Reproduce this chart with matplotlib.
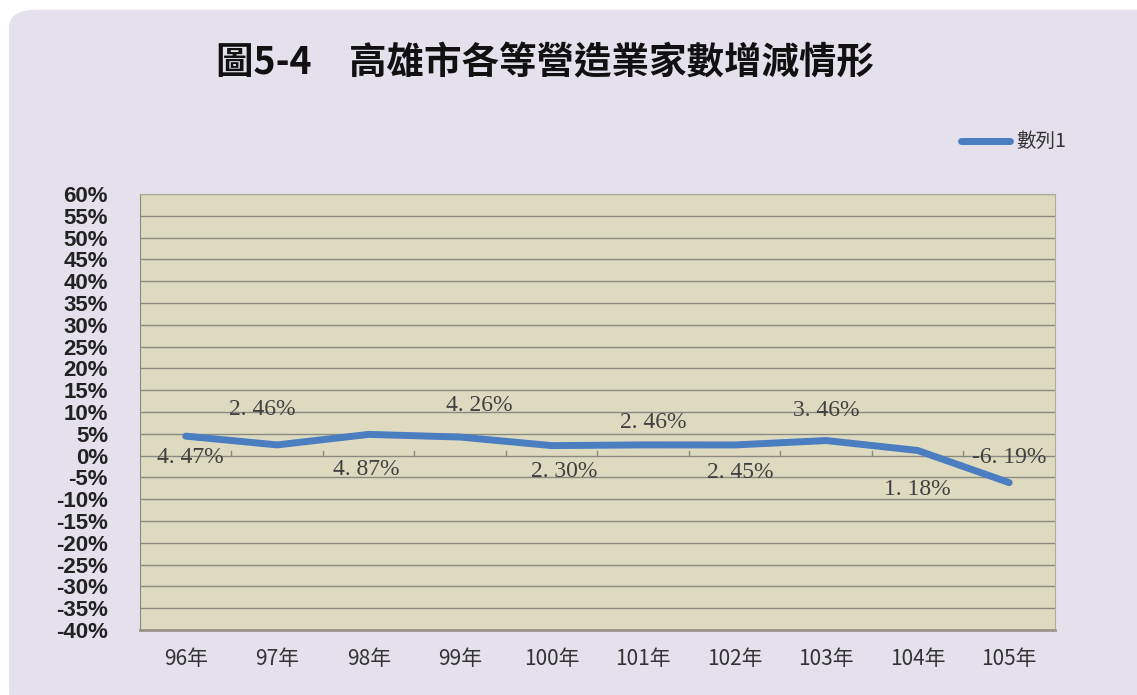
import numpy as np
import matplotlib.pyplot as plt
from matplotlib.patches import FancyBboxPatch
from matplotlib.ticker import MultipleLocator, FuncFormatter

# data
years = ['96年', '97年', '98年', '99年', '100年', '101年', '102年', '103年', '104年', '105年']
growth = [4.47, 2.46, 4.87, 4.26, 2.30, 2.46, 2.45, 3.46, 1.18, -6.19]
labels = ['4. 47%', '2. 46%', '4. 87%', '4. 26%', '2. 30%', '2. 46%', '2. 45%', '3. 46%', '1. 18%', '-6. 19%']
# label offsets in pixels (dx, dy)
offsets = [(5, -21), (-15, 35), (-2, -35), (19, 32), (12, -26),
           (10, 22), (6, -28), (0, 30), (0, -39), (0, 25)]

cjk = ['Noto Sans CJK TC', 'DejaVu Sans']

fig = plt.figure(figsize=(11.37, 6.95), dpi=100)
fig.patch.set_facecolor('white')
bg = FancyBboxPatch((0.008, -0.02), 1.5, 1.006, boxstyle='round,pad=0,rounding_size=0.025',
                    transform=fig.transFigure, facecolor='#e4e0ec', edgecolor='none', zorder=-5)
fig.patches.append(bg)

ax = fig.add_axes([0.1231, 0.0935, 0.8047, 0.6273])
ax.set_facecolor('#dedac0')

x = np.arange(len(years))
ax.plot(x, growth, color='#4a7ec0', lw=5, solid_capstyle='round', zorder=3)

for xi, v, lab, (dx, dy) in zip(x, growth, labels, offsets):
    ax.annotate(lab, (xi, v), xytext=(dx, dy), textcoords='offset pixels',
                ha='center', va='center', fontsize=17, family='Liberation Serif',
                color='#404040', zorder=4)

ax.set_xlim(-0.5, len(years) - 0.5)
ax.set_ylim(-40, 60)
ax.yaxis.set_major_locator(MultipleLocator(5))
ax.yaxis.set_major_formatter(FuncFormatter(lambda v, p: '%d%%' % v))
ax.grid(axis='y', color='#8a8a80', lw=1)
ax.set_axisbelow(True)

# category boundary ticks on zero line
for b in np.arange(0.5, len(years) - 0.5):
    ax.plot([b, b], [0, 1.1], color='#8a8a80', lw=1, zorder=2)

ax.set_xticks(x)
ax.set_xticklabels(years, family=cjk, fontsize=15, color='#333333')
ax.tick_params(axis='x', length=0, pad=13)
ax.tick_params(axis='y', length=0, pad=23)
for t in ax.get_yticklabels():
    t.set_family('Liberation Sans')
    t.set_fontsize(16)
    t.set_fontweight('bold')
    t.set_color('#222222')

for s in ['top', 'right']:
    ax.spines[s].set_color('#b0ad9c')
ax.spines['left'].set_color('#8a8a80')
ax.spines['bottom'].set_color('#9a978a')
ax.spines['bottom'].set_linewidth(2)

fig.text(0.479, 0.91, '圖5-4　高雄市各等營造業家數增減情形', family=cjk,
         fontsize=27, fontweight='bold', ha='center', va='center', color='#111111')

# legend
fig.lines.append(plt.Line2D([0.845, 0.888], [0.797, 0.797], transform=fig.transFigure,
                            color='#4a7ec0', lw=5, solid_capstyle='round'))
fig.text(0.894, 0.797, '數列1', family=cjk, fontsize=14, va='center', color='#333333')

fig.savefig('out.png', dpi=100, facecolor=fig.get_facecolor())
